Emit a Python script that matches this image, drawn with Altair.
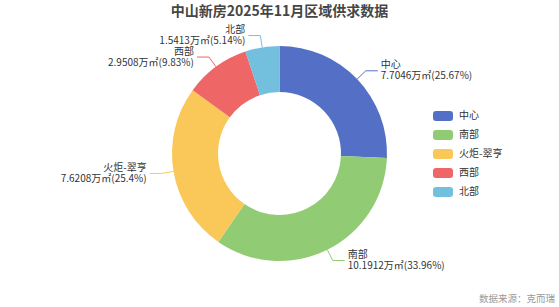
import altair as alt
import pandas as pd

names = ["中心", "南部", "火炬-翠亨", "西部", "北部"]
values = [7.7046, 10.1912, 7.6208, 2.9508, 1.5413]
pcts = ["25.67%", "33.96%", "25.4%", "9.83%", "5.14%"]
colors = ["#5470c6", "#91cc75", "#fac858", "#ee6666", "#73c0de"]

title_text = "中山新房2025年11月区域供求数据"
source_text = "数据来源：克而瑞"

df = pd.DataFrame({
    "name": names,
    "value": values,
    "pct": pcts,
    "idx": list(range(len(names))),
})
df["label"] = [f"{n}\n{v}万㎡({p})" for n, v, p in zip(names, values, pcts)]

W, H = 559, 307
CX, CY = 279.5, 153.5
R_OUT, R_IN = 107.5, 61.5
L1, L2, GAP = 12, 12, 3
FONT = "Noto Sans CJK SC"

rect_path = ("M-0.7,-0.5 L0.7,-0.5 Q1,-0.5 1,-0.2 L1,0.2 Q1,0.5 0.7,0.5 "
             "L-0.7,0.5 Q-1,0.5 -1,0.2 L-1,-0.2 Q-1,-0.5 -0.7,-0.5 Z")

color_enc = alt.Color(
    "name:N",
    scale=alt.Scale(domain=names, range=colors),
    sort=names,
    legend=alt.Legend(
        orient="none", legendX=433, legendY=106, title=None,
        symbolType=rect_path, symbolSize=400, symbolStrokeWidth=0,
        symbolOpacity=1, labelFont=FONT, labelFontSize=10,
        labelColor="#333333", labelOffset=6, rowPadding=4, padding=0,
    ),
)

base = (
    alt.Chart(df)
    .transform_joinaggregate(total="sum(value)")
    .transform_window(cum="sum(value)", sort=[alt.SortField("idx")], frame=[None, 0])
    .transform_calculate(mid="(datum.cum - datum.value/2) / datum.total * 2 * PI")
    .transform_calculate(
        sx=f"{CX} + {R_OUT} * sin(datum.mid)",
        sy=f"{CY} - {R_OUT} * cos(datum.mid)",
        ex=f"{CX} + {R_OUT + L1} * sin(datum.mid)",
        ey=f"{CY} - {R_OUT + L1} * cos(datum.mid)",
        side="sin(datum.mid) >= 0 ? 1 : -1",
    )
    .transform_calculate(
        hx=f"datum.ex + datum.side * {L2}",
        tx=f"datum.ex + datum.side * {L2 + GAP}",
    )
)

arcs = alt.Chart(df).mark_arc(radius=R_OUT, radius2=R_IN).encode(
    theta=alt.Theta("value:Q", stack=True),
    order=alt.Order("idx:Q"),
    color=color_enc,
    x=alt.value(CX),
    y=alt.value(CY),
)

seg1 = base.mark_rule(strokeWidth=1).encode(
    x=alt.X("sx:Q", scale=None, axis=None),
    y=alt.Y("sy:Q", scale=None, axis=None),
    x2="ex:Q",
    y2="ey:Q",
    color=color_enc,
)
seg2 = base.mark_rule(strokeWidth=1).encode(
    x=alt.X("ex:Q", scale=None, axis=None),
    y=alt.Y("ey:Q", scale=None, axis=None),
    x2="hx:Q",
    y2="ey:Q",
    color=color_enc,
)

txt_kw = dict(font=FONT, fontSize=10, lineBreak="\n", lineHeight=11,
              baseline="middle", color="#333333", dy=-5.5)
labels_right = base.transform_filter("datum.side > 0").mark_text(align="left", **txt_kw).encode(
    x=alt.X("tx:Q", scale=None, axis=None),
    y=alt.Y("ey:Q", scale=None, axis=None),
    text="label:N",
)
labels_left = base.transform_filter("datum.side < 0").mark_text(align="right", **txt_kw).encode(
    x=alt.X("tx:Q", scale=None, axis=None),
    y=alt.Y("ey:Q", scale=None, axis=None),
    text="label:N",
)

title = alt.Chart(pd.DataFrame({"t": [title_text]})).mark_text(
    font=FONT, fontSize=14, fontWeight="bold", color="#464646",
    align="center", baseline="middle",
).encode(x=alt.value(W / 2), y=alt.value(12), text="t:N")

source = alt.Chart(pd.DataFrame({"t": [source_text]})).mark_text(
    font=FONT, fontSize=9.5, color="#999999", align="right", baseline="middle",
).encode(x=alt.value(555), y=alt.value(299), text="t:N")

chart = (
    alt.layer(arcs, seg1, seg2, labels_right, labels_left, title, source)
    .properties(width=W, height=H, autosize=alt.AutoSizeParams(type="none"), padding=0,
                background="white")
    .configure_view(stroke=None)
)

chart.save("out.html", embed_options={"renderer": "svg", "actions": False})
